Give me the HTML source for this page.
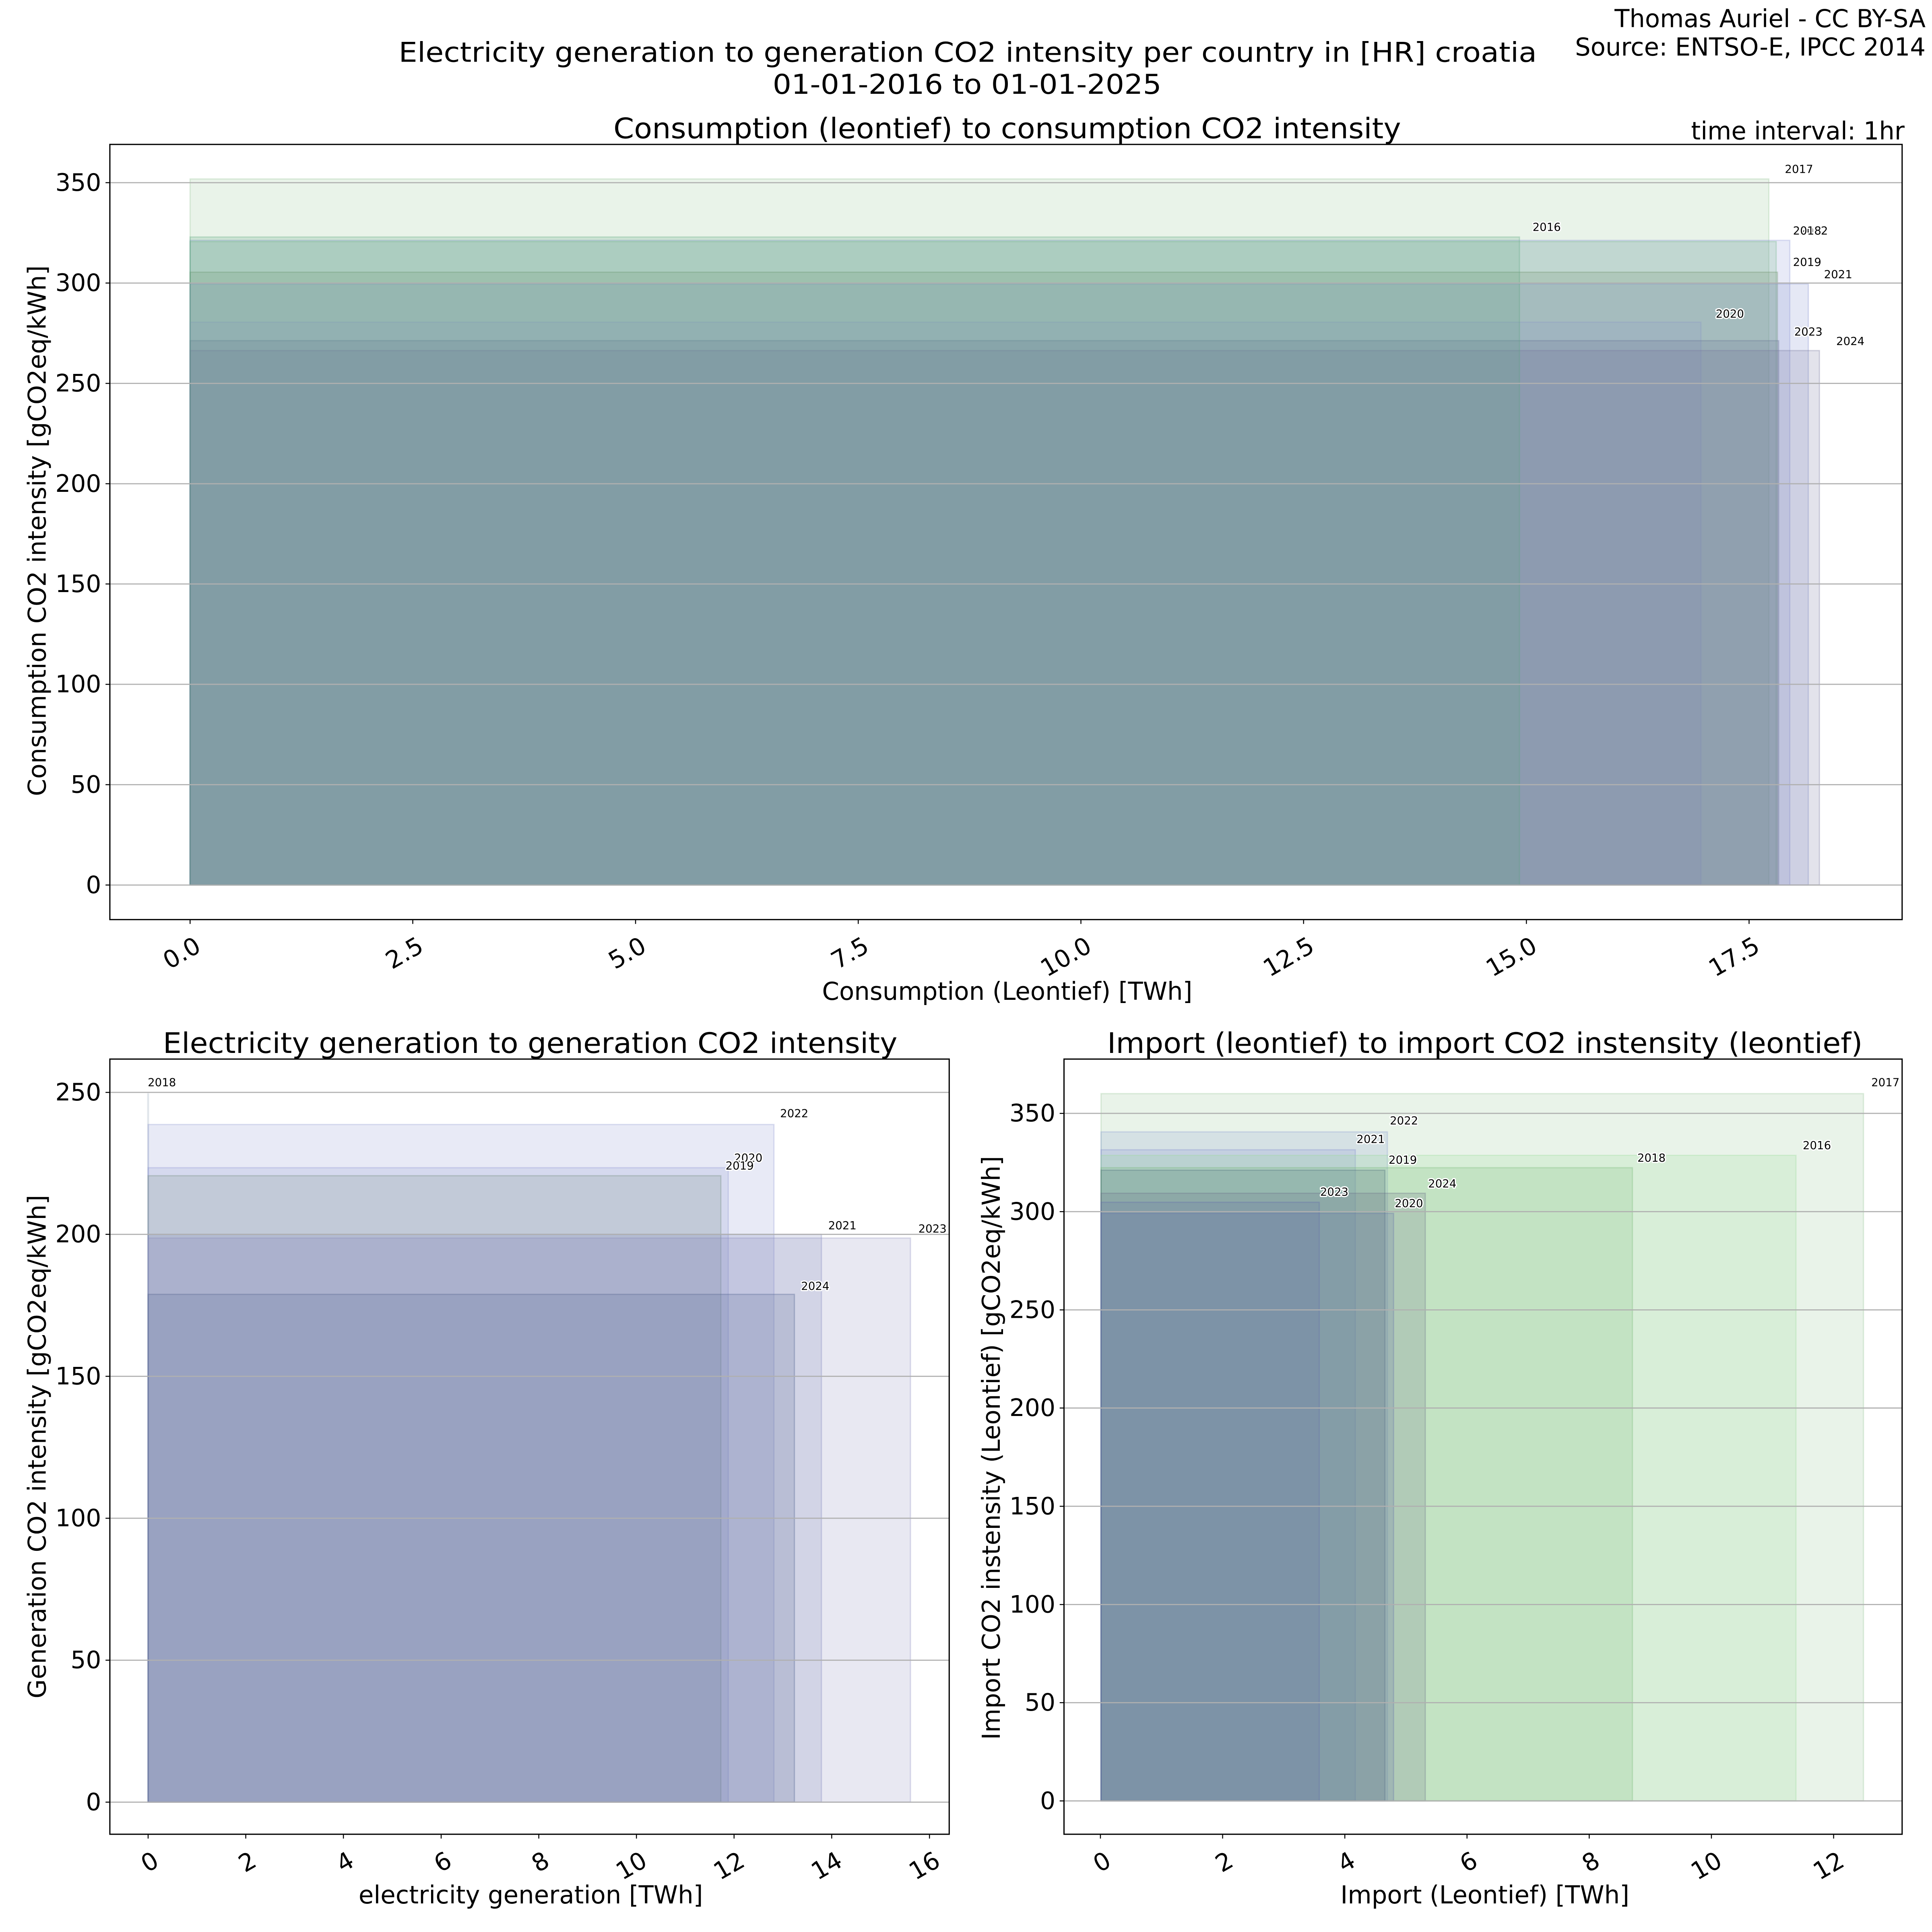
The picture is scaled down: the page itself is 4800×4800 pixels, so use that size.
<!DOCTYPE html>
<html><head><meta charset="utf-8"><style>
html,body{margin:0;padding:0;background:#fff;}
svg{display:block;}
text{font-family:"DejaVu Sans","Liberation Sans",sans-serif;fill:#000;}
.t{font-size:19.5px;}
.yl{font-size:9px;paint-order:stroke;stroke:#fff;stroke-width:2px;stroke-linejoin:round;}
.g{stroke:#b0b0b0;stroke-width:0.9;}
.ax{fill:none;stroke:#000;stroke-width:1;}
.tk{stroke:#000;stroke-width:0.8;}
</style></head><body>
<svg width="4800" height="4800" viewBox="0 0 1565.2 1565.2" xmlns="http://www.w3.org/2000/svg">
<rect x="0" y="0" width="1565.2" height="1565.2" fill="#fff"/>
<text x="1560" y="22" font-size="20" text-anchor="end" textLength="252" lengthAdjust="spacingAndGlyphs">Thomas Auriel - CC BY-SA</text>
<text x="1560" y="45" font-size="20" text-anchor="end" textLength="284" lengthAdjust="spacingAndGlyphs">Source: ENTSO-E, IPCC 2014</text>
<text x="323" y="50" font-size="22" textLength="922" lengthAdjust="spacingAndGlyphs">Electricity generation to generation CO2 intensity per country in [HR] croatia</text>
<text x="626" y="76" font-size="22" textLength="315" lengthAdjust="spacingAndGlyphs">01-01-2016 to 01-01-2025</text>
<text x="497" y="112" font-size="23" textLength="638" lengthAdjust="spacingAndGlyphs">Consumption (leontief) to consumption CO2 intensity</text>
<text x="1543" y="113" font-size="20" text-anchor="end" textLength="173" lengthAdjust="spacingAndGlyphs">time interval: 1hr</text>

<!-- ===== TOP PLOT ===== -->
<g stroke-width="1">
<rect x="154" y="145" width="1279" height="572" fill="rgb(145,195,145)" fill-opacity="0.2" stroke="rgb(145,195,145)" stroke-opacity="0.3"/>
<rect x="154" y="194.7" width="1296" height="522.3" fill="rgb(140,150,215)" fill-opacity="0.2" stroke="rgb(140,150,215)" stroke-opacity="0.3"/>
<rect x="154" y="195.7" width="1285" height="521.3" fill="rgb(112,182,132)" fill-opacity="0.2" stroke="rgb(112,182,132)" stroke-opacity="0.3"/>
<rect x="154" y="220.5" width="1286" height="496.5" fill="rgb(104,141,100)" fill-opacity="0.2" stroke="rgb(104,141,100)" stroke-opacity="0.3"/>
<rect x="154" y="230" width="1311" height="487" fill="rgb(125,140,205)" fill-opacity="0.2" stroke="rgb(125,140,205)" stroke-opacity="0.3"/>
<rect x="154" y="261" width="1224" height="456" fill="rgb(139,153,200)" fill-opacity="0.2" stroke="rgb(139,153,200)" stroke-opacity="0.3"/>
<rect x="154" y="276" width="1287" height="441" fill="rgb(99,111,147)" fill-opacity="0.2" stroke="rgb(99,111,147)" stroke-opacity="0.3"/>
<rect x="154" y="284" width="1320" height="433" fill="rgb(115,115,155)" fill-opacity="0.2" stroke="rgb(115,115,155)" stroke-opacity="0.3"/>
<rect x="154" y="192" width="1077" height="525" fill="rgb(90,165,125)" fill-opacity="0.2" stroke="rgb(90,165,125)" stroke-opacity="0.3"/>
</g>
<g class="g">
<line x1="89" x2="1541" y1="717" y2="717"/><line x1="89" x2="1541" y1="635.7" y2="635.7"/>
<line x1="89" x2="1541" y1="554.4" y2="554.4"/><line x1="89" x2="1541" y1="473.1" y2="473.1"/>
<line x1="89" x2="1541" y1="391.9" y2="391.9"/><line x1="89" x2="1541" y1="310.6" y2="310.6"/>
<line x1="89" x2="1541" y1="229.3" y2="229.3"/><line x1="89" x2="1541" y1="148" y2="148"/>
</g>
<rect class="ax" x="89" y="117" width="1452" height="628"/>
<g class="tk">
<line x1="85.5" x2="89" y1="717" y2="717"/><line x1="85.5" x2="89" y1="635.7" y2="635.7"/><line x1="85.5" x2="89" y1="554.4" y2="554.4"/><line x1="85.5" x2="89" y1="473.1" y2="473.1"/><line x1="85.5" x2="89" y1="391.9" y2="391.9"/><line x1="85.5" x2="89" y1="310.6" y2="310.6"/><line x1="85.5" x2="89" y1="229.3" y2="229.3"/><line x1="85.5" x2="89" y1="148" y2="148"/>
<line x1="154" x2="154" y1="745" y2="748.5"/><line x1="334.4" x2="334.4" y1="745" y2="748.5"/><line x1="514.9" x2="514.9" y1="745" y2="748.5"/><line x1="695.3" x2="695.3" y1="745" y2="748.5"/><line x1="875.7" x2="875.7" y1="745" y2="748.5"/><line x1="1056.1" x2="1056.1" y1="745" y2="748.5"/><line x1="1236.6" x2="1236.6" y1="745" y2="748.5"/><line x1="1417" x2="1417" y1="745" y2="748.5"/>
</g>
<g class="t" text-anchor="end" dominant-baseline="central">
<text x="82" y="717">0</text><text x="82" y="635.7">50</text><text x="82" y="554.4">100</text><text x="82" y="473.1">150</text><text x="82" y="391.9">200</text><text x="82" y="310.6">250</text><text x="82" y="229.3">300</text><text x="82" y="148">350</text>
</g>
<g class="t" text-anchor="end">
<text transform="translate(157,758) rotate(-30)" dy="14">0.0</text>
<text transform="translate(337.4,758) rotate(-30)" dy="14">2.5</text>
<text transform="translate(517.9,758) rotate(-30)" dy="14">5.0</text>
<text transform="translate(698.3,758) rotate(-30)" dy="14">7.5</text>
<text transform="translate(878.7,758) rotate(-30)" dy="14">10.0</text>
<text transform="translate(1059.1,758) rotate(-30)" dy="14">12.5</text>
<text transform="translate(1239.6,758) rotate(-30)" dy="14">15.0</text>
<text transform="translate(1420,758) rotate(-30)" dy="14">17.5</text>
</g>
<text x="816" y="810" font-size="20" text-anchor="middle" textLength="300" lengthAdjust="spacingAndGlyphs">Consumption (Leontief) [TWh]</text>
<text transform="translate(37,430) rotate(-90)" font-size="20" text-anchor="middle" textLength="430" lengthAdjust="spacingAndGlyphs">Consumption CO2 intensity [gCO2eq/kWh]</text>
<g class="yl">
<text x="1446" y="140">2017</text>
<text x="1241.6" y="187">2016</text>
<text x="1458" y="190">2022</text>
<text x="1452.6" y="190">2018</text>
<text x="1452.6" y="215.4">2019</text>
<text x="1477.7" y="225.3">2021</text>
<text x="1390" y="257.3">2020</text>
<text x="1453.6" y="271.8">2023</text>
<text x="1487.6" y="279.4">2024</text>
</g>

<!-- ===== BOTTOM LEFT ===== -->
<text x="132" y="853" font-size="23" textLength="595" lengthAdjust="spacingAndGlyphs">Electricity generation to generation CO2 intensity</text>
<g stroke-width="1">
<rect x="119.6" y="886" width="0.8" height="574" fill="rgb(160,175,190)" fill-opacity="0.2" stroke="rgb(160,175,190)" stroke-opacity="0.2"/>
<rect x="120" y="911" width="507" height="549" fill="rgb(140,150,210)" fill-opacity="0.2" stroke="rgb(140,150,210)" stroke-opacity="0.3"/>
<rect x="120" y="946" width="470" height="514" fill="rgb(140,150,210)" fill-opacity="0.2" stroke="rgb(140,150,210)" stroke-opacity="0.3"/>
<rect x="120" y="952.5" width="464" height="507.5" fill="rgb(120,143,128)" fill-opacity="0.2" stroke="rgb(120,143,128)" stroke-opacity="0.35"/>
<rect x="120" y="1000" width="545.5" height="460" fill="rgb(122,129,184)" fill-opacity="0.2" stroke="rgb(122,129,184)" stroke-opacity="0.3"/>
<rect x="120" y="1003" width="617.6" height="457" fill="rgb(140,140,190)" fill-opacity="0.2" stroke="rgb(140,140,190)" stroke-opacity="0.3"/>
<rect x="120" y="1048.6" width="523.6" height="411.4" fill="rgb(87,104,147)" fill-opacity="0.2" stroke="rgb(87,104,147)" stroke-opacity="0.35"/>
</g>
<g class="g">
<line x1="89" x2="769" y1="1460" y2="1460"/><line x1="89" x2="769" y1="1345" y2="1345"/><line x1="89" x2="769" y1="1230" y2="1230"/><line x1="89" x2="769" y1="1115" y2="1115"/><line x1="89" x2="769" y1="1000" y2="1000"/><line x1="89" x2="769" y1="885" y2="885"/>
</g>
<rect class="ax" x="89" y="858" width="680" height="628"/>
<g class="tk">
<line x1="85.5" x2="89" y1="1460" y2="1460"/><line x1="85.5" x2="89" y1="1345" y2="1345"/><line x1="85.5" x2="89" y1="1230" y2="1230"/><line x1="85.5" x2="89" y1="1115" y2="1115"/><line x1="85.5" x2="89" y1="1000" y2="1000"/><line x1="85.5" x2="89" y1="885" y2="885"/>
<line x1="120" x2="120" y1="1486" y2="1489.5"/><line x1="199.1" x2="199.1" y1="1486" y2="1489.5"/><line x1="278.2" x2="278.2" y1="1486" y2="1489.5"/><line x1="357.4" x2="357.4" y1="1486" y2="1489.5"/><line x1="436.5" x2="436.5" y1="1486" y2="1489.5"/><line x1="515.6" x2="515.6" y1="1486" y2="1489.5"/><line x1="594.7" x2="594.7" y1="1486" y2="1489.5"/><line x1="673.8" x2="673.8" y1="1486" y2="1489.5"/><line x1="753" x2="753" y1="1486" y2="1489.5"/>
</g>
<g class="t" text-anchor="end" dominant-baseline="central">
<text x="82" y="1460">0</text><text x="82" y="1345">50</text><text x="82" y="1230">100</text><text x="82" y="1115">150</text><text x="82" y="1000">200</text><text x="82" y="885">250</text>
</g>
<g class="t" text-anchor="end">
<text transform="translate(123,1499) rotate(-30)" dy="14">0</text>
<text transform="translate(202.1,1499) rotate(-30)" dy="14">2</text>
<text transform="translate(281.2,1499) rotate(-30)" dy="14">4</text>
<text transform="translate(360.4,1499) rotate(-30)" dy="14">6</text>
<text transform="translate(439.5,1499) rotate(-30)" dy="14">8</text>
<text transform="translate(518.6,1499) rotate(-30)" dy="14">10</text>
<text transform="translate(597.7,1499) rotate(-30)" dy="14">12</text>
<text transform="translate(676.8,1499) rotate(-30)" dy="14">14</text>
<text transform="translate(756,1499) rotate(-30)" dy="14">16</text>
</g>
<text x="430" y="1542" font-size="20" text-anchor="middle" textLength="279" lengthAdjust="spacingAndGlyphs">electricity generation [TWh]</text>
<text transform="translate(37,1172) rotate(-90)" font-size="20" text-anchor="middle" textLength="408" lengthAdjust="spacingAndGlyphs">Generation CO2 intensity [gCO2eq/kWh]</text>
<g class="yl">
<text x="119.7" y="880">2018</text>
<text x="632" y="905">2022</text>
<text x="594.8" y="941">2020</text>
<text x="587.8" y="947.5">2019</text>
<text x="671" y="995.8">2021</text>
<text x="744" y="998.5">2023</text>
<text x="649" y="1045">2024</text>
</g>

<!-- ===== BOTTOM RIGHT ===== -->
<text x="897" y="853" font-size="23" textLength="612" lengthAdjust="spacingAndGlyphs">Import (leontief) to import CO2 instensity (leontief)</text>
<g stroke-width="1">
<rect x="892" y="886" width="617.7" height="573" fill="rgb(145,195,145)" fill-opacity="0.2" stroke="rgb(145,195,145)" stroke-opacity="0.3"/>
<rect x="892" y="917" width="232" height="542" fill="rgb(137,153,212)" fill-opacity="0.2" stroke="rgb(137,153,212)" stroke-opacity="0.3"/>
<rect x="892" y="931.5" width="206" height="527.5" fill="rgb(128,140,208)" fill-opacity="0.2" stroke="rgb(128,140,208)" stroke-opacity="0.3"/>
<rect x="892" y="936" width="563" height="523" fill="rgb(152,218,152)" fill-opacity="0.2" stroke="rgb(152,218,152)" stroke-opacity="0.3"/>
<rect x="892" y="946" width="430.5" height="513" fill="rgb(116,183,116)" fill-opacity="0.2" stroke="rgb(116,183,116)" stroke-opacity="0.3"/>
<rect x="892" y="948" width="230" height="511" fill="rgb(68,101,116)" fill-opacity="0.2" stroke="rgb(68,101,116)" stroke-opacity="0.3"/>
<rect x="892" y="966.7" width="262.7" height="492.3" fill="rgb(107,109,136)" fill-opacity="0.2" stroke="rgb(107,109,136)" stroke-opacity="0.3"/>
<rect x="892" y="974" width="176.8" height="485" fill="rgb(99,111,171)" fill-opacity="0.2" stroke="rgb(99,111,171)" stroke-opacity="0.35"/>
<rect x="892" y="983" width="237" height="476" fill="rgb(99,111,171)" fill-opacity="0.2" stroke="rgb(99,111,171)" stroke-opacity="0.3"/>
</g>
<g class="g">
<line x1="862" x2="1541" y1="1459" y2="1459"/><line x1="862" x2="1541" y1="1379.4" y2="1379.4"/><line x1="862" x2="1541" y1="1299.9" y2="1299.9"/><line x1="862" x2="1541" y1="1220.3" y2="1220.3"/><line x1="862" x2="1541" y1="1140.7" y2="1140.7"/><line x1="862" x2="1541" y1="1061.2" y2="1061.2"/><line x1="862" x2="1541" y1="981.6" y2="981.6"/><line x1="862" x2="1541" y1="902" y2="902"/>
</g>
<rect class="ax" x="862" y="858" width="679" height="628"/>
<g class="tk">
<line x1="858.5" x2="862" y1="1459" y2="1459"/><line x1="858.5" x2="862" y1="1379.4" y2="1379.4"/><line x1="858.5" x2="862" y1="1299.9" y2="1299.9"/><line x1="858.5" x2="862" y1="1220.3" y2="1220.3"/><line x1="858.5" x2="862" y1="1140.7" y2="1140.7"/><line x1="858.5" x2="862" y1="1061.2" y2="1061.2"/><line x1="858.5" x2="862" y1="981.6" y2="981.6"/><line x1="858.5" x2="862" y1="902" y2="902"/>
<line x1="891.5" x2="891.5" y1="1486" y2="1489.5"/><line x1="990.5" x2="990.5" y1="1486" y2="1489.5"/><line x1="1089.5" x2="1089.5" y1="1486" y2="1489.5"/><line x1="1188.5" x2="1188.5" y1="1486" y2="1489.5"/><line x1="1287.5" x2="1287.5" y1="1486" y2="1489.5"/><line x1="1386.5" x2="1386.5" y1="1486" y2="1489.5"/><line x1="1485.5" x2="1485.5" y1="1486" y2="1489.5"/>
</g>
<g class="t" text-anchor="end" dominant-baseline="central">
<text x="855" y="1459">0</text><text x="855" y="1379.4">50</text><text x="855" y="1299.9">100</text><text x="855" y="1220.3">150</text><text x="855" y="1140.7">200</text><text x="855" y="1061.2">250</text><text x="855" y="981.6">300</text><text x="855" y="902">350</text>
</g>
<g class="t" text-anchor="end">
<text transform="translate(894.5,1499) rotate(-30)" dy="14">0</text>
<text transform="translate(993.5,1499) rotate(-30)" dy="14">2</text>
<text transform="translate(1092.5,1499) rotate(-30)" dy="14">4</text>
<text transform="translate(1191.5,1499) rotate(-30)" dy="14">6</text>
<text transform="translate(1290.5,1499) rotate(-30)" dy="14">8</text>
<text transform="translate(1389.5,1499) rotate(-30)" dy="14">10</text>
<text transform="translate(1488.5,1499) rotate(-30)" dy="14">12</text>
</g>
<text x="1203" y="1542" font-size="20" text-anchor="middle" textLength="234" lengthAdjust="spacingAndGlyphs">Import (Leontief) [TWh]</text>
<text transform="translate(810,1173) rotate(-90)" font-size="20" text-anchor="middle" textLength="473" lengthAdjust="spacingAndGlyphs">Import CO2 instensity (Leontief) [gCO2eq/kWh]</text>
<g class="yl">
<text x="1516" y="880">2017</text>
<text x="1126" y="911">2022</text>
<text x="1099" y="926">2021</text>
<text x="1460.5" y="931">2016</text>
<text x="1125" y="942.7">2019</text>
<text x="1326.5" y="941">2018</text>
<text x="1157" y="962">2024</text>
<text x="1069.5" y="968.7">2023</text>
<text x="1130" y="978">2020</text>
</g>
</svg>
</body></html>
